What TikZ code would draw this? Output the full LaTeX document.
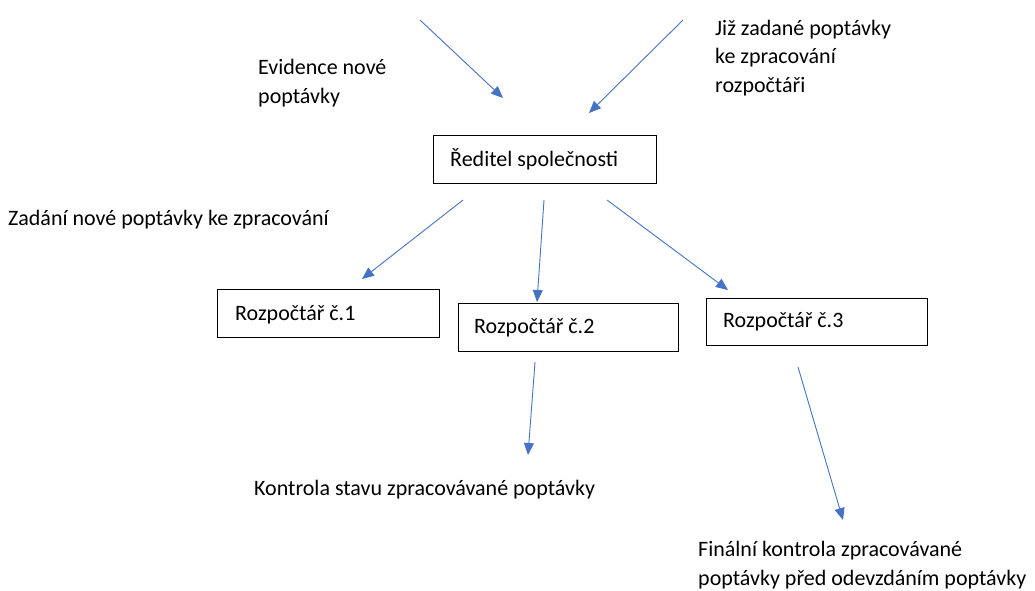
\documentclass[tikz,border=0pt]{standalone}
\usepackage{fontspec}
\setmainfont{Carlito}
\usetikzlibrary{arrows.meta}
\definecolor{arrblue}{HTML}{4472C4}
\begin{document}
\begin{tikzpicture}[x=1pt,y=-1pt,
  lbl/.style={anchor=base west,inner sep=0pt,align=left,font=\fontsize{22}{28.5}\selectfont},
  box/.style={draw=black,line width=1.4pt,anchor=north west,inner sep=0pt},
  boxtxt/.style={anchor=base west,inner sep=0pt,font=\fontsize{22}{28.5}\selectfont},
  arr/.style={draw=arrblue,line width=0.9pt,-{Triangle[length=12pt,width=10pt]}}]
\useasboundingbox (0,0) rectangle (1035,590);
% boxes
\node[box,minimum width=223pt,minimum height=48pt] (dir) at (433,135) {};
\node[boxtxt] (dirt) at (450,166) {Ředitel společnosti};
\node[box,minimum width=222pt,minimum height=48pt] (r1) at (217,289) {};
\node[boxtxt] (r1t) at (235,320) {Rozpočtář č.1};
\node[box,minimum width=220pt,minimum height=48pt] (r2) at (458,303) {};
\node[boxtxt] (r2t) at (474,333) {Rozpočtář č.2};
\node[box,minimum width=221pt,minimum height=47pt] (r3) at (706,298) {};
\node[boxtxt] (r3t) at (723,327) {Rozpočtář č.3};
% labels (multi-line: anchored at baseline of last line)
\node[lbl] (ev) at (258,103) {Evidence nové\\poptávky};
\node[lbl] (jz) at (715,92) {Již zadané poptávky\\ke zpracování\\rozpočtáři};
\node[lbl] (zd) at (8,225) {Zadání nové poptávky ke zpracování};
\node[lbl] (ko) at (254,495) {Kontrola stavu zpracovávané poptávky};
\node[lbl] (fi) at (698,585) {Finální kontrola zpracovávané\\poptávky před odevzdáním poptávky};
% arrow endpoints
\coordinate (a1s) at (420,20);  \coordinate (a1e) at (503,98);
\coordinate (a2s) at (683,20);  \coordinate (a2e) at (589,113);
\coordinate (a3s) at (463,200); \coordinate (a3e) at (362,279);
\coordinate (a4s) at (544,200); \coordinate (a4e) at (537,302);
\coordinate (a5s) at (607,200); \coordinate (a5e) at (728,290);
\coordinate (a6s) at (535,362); \coordinate (a6e) at (528,455);
\coordinate (a7s) at (798,367); \coordinate (a7e) at (843,520);
\draw[arr] (a1s) -- (a1e);
\draw[arr] (a2s) -- (a2e);
\draw[arr] (a3s) -- (a3e);
\draw[arr] (a4s) -- (a4e);
\draw[arr] (a5s) -- (a5e);
\draw[arr] (a6s) -- (a6e);
\draw[arr] (a7s) -- (a7e);
\end{tikzpicture}
\end{document}
